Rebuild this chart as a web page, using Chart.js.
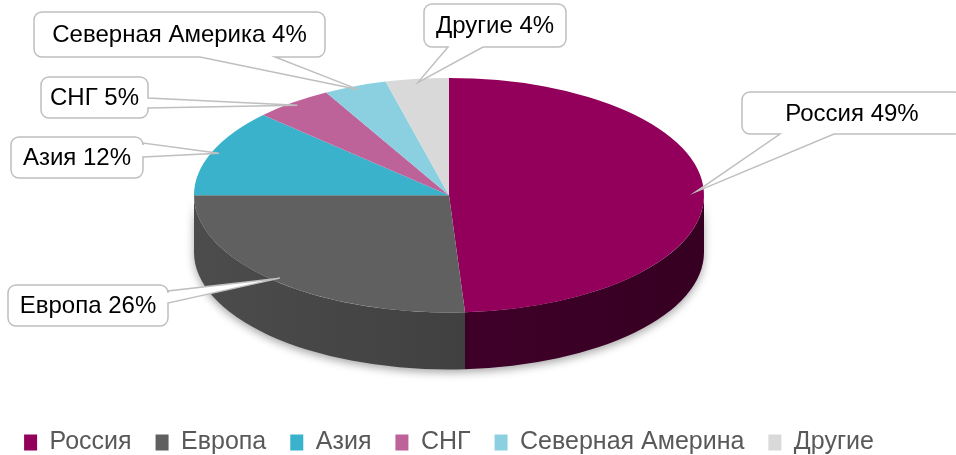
<!DOCTYPE html>
<html>
<head>
<meta charset="utf-8">
<script src="https://cdn.jsdelivr.net/npm/chart.js@4.4.1/dist/chart.umd.min.js"></script>
<style>
  html, body { margin: 0; padding: 0; background: #fff; }
</style>
</head>
<body>
<canvas id="grafica" width="956" height="455"></canvas>
<script>
// Datos del gráfico
const regiones = ['Россия', 'Европа', 'Азия', 'СНГ', 'Северная Америна', 'Другие']; // leyenda (tal cual)
const nombresGlobo = ['Россия', 'Европа', 'Азия', 'СНГ', 'Северная Америка', 'Другие'];
const porcentajes = [49, 26, 12, 5, 4, 4];

// Estilos
const colores = ['#93005c', '#606060', '#3ab2cb', '#bd639a', '#8bd0e0', '#d9d9d9'];
const lateralClaro = ['#4a0030', '#4c4c4c', '#1f6373', '#6a3556', '#4d7480', '#7a7a7a'];
const lateralOscuro = ['#360022', '#363636', '#164a57', '#4f2740', '#3a5860', '#5c5c5c'];
const profundidad = 57;
const inclinacion = 0.46;

// Globos de texto: caja + lado del piquito + base del piquito
const globos = [
    { x: 742, y: 92,  w: 220, h: 42, lado: 'abajo',   b: [780, 834] },
    { x: 8,   y: 285, w: 160, h: 41, lado: 'derecha', b: [291, 303] },
    { x: 11,  y: 137, w: 132, h: 41, lado: 'derecha', b: [143, 157] },
    { x: 41,  y: 77,  w: 107, h: 41, lado: 'derecha', b: [98, 108] },
    { x: 34,  y: 12,  w: 291, h: 45, lado: 'abajo',   b: [200, 275] },
    { x: 424, y: 4,   w: 142, h: 43, lado: 'abajo',   b: [448, 483] }
];

function puntoElipse(arc, ang, f) {
    const rx = arc.outerRadius * f;
    return { x: arc.x + rx * Math.cos(ang), y: arc.y + rx * inclinacion * Math.sin(ang) };
}

// --- Plugin 3D: cara lateral + aplastar la tarta ---
const pluginTresD = {
    id: 'tresD',
    beforeDatasetsDraw(chart) {
        const ctx = chart.ctx;
        const meta = chart.getDatasetMeta(0);
        meta.data.forEach((arc, i) => {
            const a1 = Math.max(arc.startAngle, 0);
            const b1 = Math.min(arc.endAngle, Math.PI);
            if (b1 <= a1) return;
            const rx = arc.outerRadius, ry = rx * inclinacion;
            const grad = ctx.createLinearGradient(arc.x - rx, 0, arc.x + rx, 0);
            grad.addColorStop(0, lateralClaro[i]);
            grad.addColorStop(1, lateralOscuro[i]);
            ctx.save();
            ctx.shadowColor = 'rgba(0,0,0,0.35)';
            ctx.shadowBlur = 8;
            ctx.shadowOffsetY = 3;
            ctx.beginPath();
            ctx.ellipse(arc.x, arc.y, rx, ry, 0, a1, b1);
            ctx.ellipse(arc.x, arc.y + profundidad, rx, ry, 0, b1, a1, true);
            ctx.closePath();
            ctx.fillStyle = grad;
            ctx.fill();
            ctx.restore();
        });
        const c = meta.data[0];
        ctx.save();
        ctx.translate(c.x, c.y);
        ctx.scale(1, inclinacion);
        ctx.translate(-c.x, -c.y);
    },
    afterDatasetsDraw(chart) {
        chart.ctx.restore();
    }
};

function trazarGlobo(ctx, g, tip) {
    const { x, y, w, h } = g;
    const r = 8;
    ctx.beginPath();
    ctx.moveTo(x + r, y);
    ctx.lineTo(x + w - r, y);
    ctx.arcTo(x + w, y, x + w, y + r, r);
    if (g.lado === 'derecha') {
        ctx.lineTo(x + w, g.b[0]);
        ctx.lineTo(tip.x, tip.y);
        ctx.lineTo(x + w, g.b[1]);
    }
    ctx.lineTo(x + w, y + h - r);
    ctx.arcTo(x + w, y + h, x + w - r, y + h, r);
    if (g.lado === 'abajo') {
        ctx.lineTo(g.b[1], y + h);
        ctx.lineTo(tip.x, tip.y);
        ctx.lineTo(g.b[0], y + h);
    }
    ctx.lineTo(x + r, y + h);
    ctx.arcTo(x, y + h, x, y + h - r, r);
    ctx.lineTo(x, y + r);
    ctx.arcTo(x, y, x + r, y, r);
    ctx.closePath();
}

// --- Plugin de etiquetas tipo globo ---
const pluginGlobos = {
    id: 'globos',
    afterDraw(chart) {
        const ctx = chart.ctx;
        const meta = chart.getDatasetMeta(0);
        meta.data.forEach((arc, i) => {
            const g = globos[i];
            const medio = (arc.startAngle + arc.endAngle) / 2;
            const tip = puntoElipse(arc, medio, 0.97);
            ctx.save();
            trazarGlobo(ctx, g, tip);
            ctx.fillStyle = '#ffffff';
            ctx.fill();
            ctx.lineWidth = 1.5;
            ctx.strokeStyle = '#bfbfbf';
            ctx.stroke();
            ctx.fillStyle = '#000000';
            ctx.font = "24px 'Liberation Sans', Arial, sans-serif";
            ctx.textAlign = 'center';
            ctx.textBaseline = 'middle';
            ctx.fillText(`${nombresGlobo[i]} ${porcentajes[i]}%`, g.x + g.w / 2, g.y + g.h / 2 + 1);
            ctx.restore();
        });
    }
};

const ctx = document.getElementById('grafica').getContext('2d');
new Chart(ctx, {
    type: 'pie',
    data: {
        labels: regiones,
        datasets: [{
            data: porcentajes,
            backgroundColor: colores,
            borderWidth: 0,
            radius: 255,
            clip: false
        }]
    },
    options: {
        responsive: false,
        devicePixelRatio: 1,
        animation: false,
        layout: { padding: { left: 0, right: 58, top: 0, bottom: -10 } },
        plugins: {
            tooltip: { enabled: false },
            legend: {
                position: 'bottom',
                title: { display: true, text: ' ', font: { size: 8 }, padding: 3 },
                labels: {
                    color: '#595959',
                    boxWidth: 13,
                    boxHeight: 16,
                    padding: 24,
                    font: { family: "'Liberation Sans', Arial, sans-serif", size: 25 }
                }
            }
        }
    },
    plugins: [pluginTresD, pluginGlobos]
});
</script>
</body>
</html>
